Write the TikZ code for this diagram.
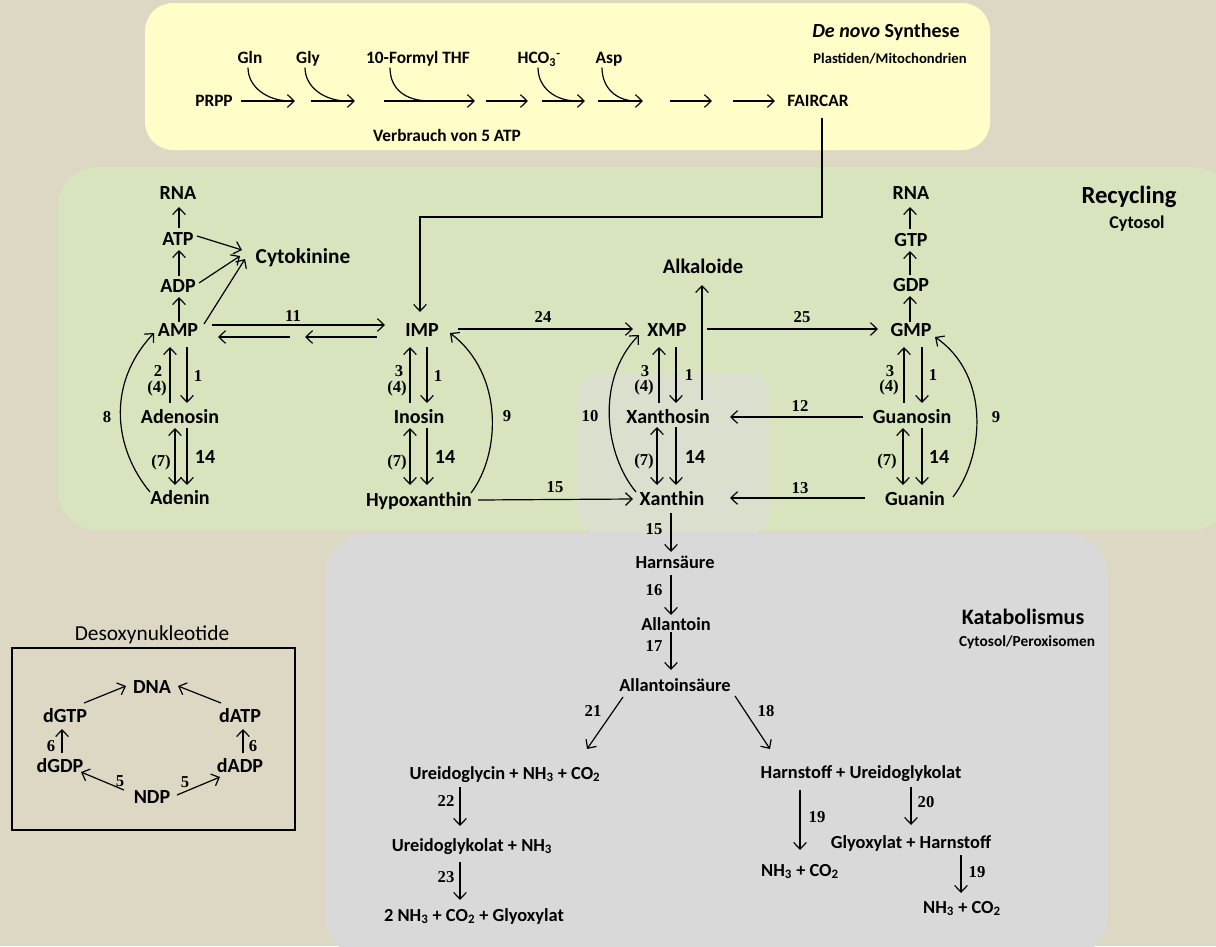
\documentclass[tikz,border=0pt]{standalone}
\usepackage{fontspec}
\setmainfont{Carlito}
\newfontfamily\numfont{Liberation Serif}
\usetikzlibrary{arrows.meta,calc}
\definecolor{bgc}{RGB}{221,216,196}
\definecolor{yelc}{RGB}{255,253,200}
\definecolor{grnc}{RGB}{216,228,189}
\definecolor{gryc}{RGB}{217,217,217}
\definecolor{midc}{RGB}{219,223,205}
\begin{document}
\begin{tikzpicture}[x=0.75pt,y=-0.75pt,
 every node/.style={inner sep=0pt,outer sep=0pt,text depth=0pt},
 lbl/.style={font=\fontsize{15}{17}\selectfont\bfseries,text height=9.7pt},
 tl/.style={font=\fontsize{13}{15}\selectfont\bfseries,text height=8.4pt},
 num/.style={font=\numfont\bfseries\fontsize{12.5}{14}\selectfont,text height=8.2pt},
 fourteen/.style={font=\fontsize{15}{17}\selectfont\bfseries,text height=9.7pt},
 kat/.style={font=\fontsize{13.8}{16}\selectfont\bfseries,text height=9pt},
 arr/.style={line width=0.9pt,-{Straight Barb[length=5pt,width=9.5pt]}},
 darr/.style={line width=0.9pt,{Straight Barb[length=5pt,width=9.5pt]}-{Straight Barb[length=5pt,width=9.5pt]}},
 ln/.style={line width=0.9pt},
]
% ---------- backgrounds ----------
\useasboundingbox (0,0) rectangle (1216,946);
\fill[bgc] (0,0) rectangle (1216,946);
\fill[yelc,rounded corners=21pt] (145,3) rectangle (990,150);
\fill[grnc,rounded corners=30pt] (58,167) rectangle (1232,530);
\fill[midc,rounded corners=18pt] (578,373) rectangle (770,535);
\fill[gryc,rounded corners=32pt] (325,533) rectangle (1108,958);

% ---------- De novo ----------
\node[font=\fontsize{15}{17}\selectfont\bfseries] (denovo) at (886,30) {\textit{De novo} Synthese};
\node[font=\fontsize{11}{13}\selectfont\bfseries] (plast) at (890,58) {Plastiden/Mitochondrien};
\node[tl] (prpp) at (214,101) {PRPP};
\node[tl] (gln) at (250,58) {Gln};
\node[tl] (gly) at (308,58) {Gly};
\node[tl] (fthf) at (418,58) {10-Formyl THF};
\node[tl] (hco) at (537,58) {HCO\textsubscript{3}\rlap{\textsuperscript{-}}};
\node[tl] (asp) at (609,58) {Asp};
\node[tl] (fair) at (818,101) {FAIRCAR};
\node[tl] (verb) at (447,136) {Verbrauch von 5 ATP};
\foreach \i/\a/\b in {1/241/295,2/311/355,3/384/475,4/486/528,5/542/585,6/598/643,7/670/712,8/733/775}{
  \coordinate (s\i a) at (\a,101);
  \coordinate (s\i b) at (\b,101);
  \draw[arr] (s\i a) -- (s\i b);
}
\coordinate (e1) at (290,101);
\coordinate (e2) at (347,101);
\coordinate (e3) at (430,101);
\coordinate (e4) at (577,101);
\coordinate (e5) at (636,101);
\draw[ln] ($(gln.south)+(-2,4)$) .. controls +(0,20) and +(-22,0) .. (e1);
\draw[ln] ($(gly.south)+(-3,4)$) .. controls +(0,20) and +(-22,0) .. (e2);
\draw[ln] ($(fthf.south)+(-28,4)$) .. controls +(0,22) and +(-24,0) .. (e3);
\draw[ln] ($(hco.south)+(1,4)$) .. controls +(0,20) and +(-22,0) .. (e4);
\draw[ln] ($(asp.south)+(-7,4)$) .. controls +(0,20) and +(-20,0) .. (e5);

% ---------- Recycling ----------
\node[font=\fontsize{18.5}{20}\selectfont\bfseries] (recyc) at (1129,195) {Recycling};
\node[font=\fontsize{13.5}{15}\selectfont\bfseries] (cytos) at (1137,222) {Cytosol};

\node[lbl] (rnaa) at (178,193) {RNA};
\node[lbl] (atp) at (178,239) {ATP};
\node[lbl] (adp) at (178,286) {ADP};
\node[lbl] (amp) at (178,330) {AMP};
\node[lbl] (ado) at (180,417) {Adenosin};
\node[lbl] (adn) at (180,498) {Adenin};
\node[font=\fontsize{16}{18}\selectfont\bfseries,text height=10.4pt] (cyto) at (303,257) {Cytokinine};

\node[lbl] (imp) at (422,330) {IMP};
\node[lbl] (ino) at (419,417) {Inosin};
\node[lbl] (hyp) at (419,500) {Hypoxanthin};

\node[lbl] (xmp) at (667,330) {XMP};
\node[lbl] (xao) at (668,417) {Xanthosin};
\node[lbl] (xan) at (672,499) {Xanthin};
\node[font=\fontsize{15.5}{17}\selectfont\bfseries,text height=10pt] (alk) at (703,267) {Alkaloide};

\node[lbl] (rnag) at (911,193) {RNA};
\node[lbl] (gtp) at (911,240) {GTP};
\node[lbl] (gdp) at (911,285) {GDP};
\node[lbl] (gmp) at (911,330) {GMP};
\node[lbl] (guo) at (912,417) {Guanosin};
\node[lbl] (gua) at (915,499) {Guanin};

% FAIRCAR -> IMP
\coordinate (f1) at ($(fair)+(4,17)$);
\coordinate (f2) at (822,217);
\coordinate (f3) at (420,217);
\draw[arr] (f1) -- (f2) -- (f3) -- ($(imp)+(-2,-18)$);

% left column
\draw[arr] ($(atp)+(1,-11)$) -- ($(rnaa)+(1,14)$);
\draw[arr] ($(adp)+(1,-10)$) -- ($(atp)+(1,11)$);
\draw[arr] ($(amp)+(1,-8)$) -- ($(adp)+(1,11)$);
\draw[arr] ($(atp)+(19,-3)$) -- ($(cyto)+(-61,-7)$);
\draw[arr] ($(adp)+(21,-3)$) -- ($(cyto)+(-63,-1)$);
\draw[arr] ($(amp)+(26,-6)$) -- ($(cyto)+(-58,2)$);
% right column
\draw[arr] ($(gtp)+(-1,-11)$) -- ($(rnag)+(-1,14)$);
\draw[arr] ($(gdp)+(-1,-10)$) -- ($(gtp)+(-1,11)$);
\draw[arr] ($(gmp)+(-1,-8)$) -- ($(gdp)+(-1,11)$);

% AMP <-> IMP
\draw[arr] ($(amp)+(34,-5)$) -- ($(imp)+(-37,-5)$);
\draw[arr] ($(imp)+(-45,7)$) -- ($(imp)+(-117,7)$);
\draw[arr] ($(amp)+(112,7)$) -- ($(amp)+(40,7)$);
\node[num] (n11) at (293,316) {11};
% IMP -> XMP -> GMP
\draw[arr] ($(imp)+(36,-1)$) -- ($(xmp)+(-34,-1)$);
\node[num] (n24) at (543,317) {24};
\draw[arr] ($(xmp)+(40,-1)$) -- ($(gmp)+(-33,-1)$);
\node[num] (n25) at (802,317) {25};
% horizontal arrows below
\draw[arr] ($(guo)+(-49,0)$) -- ($(xao)+(62,0)$);
\node[num] (n12) at (800,406) {12};
\draw[arr] ($(gua)+(-50,-1)$) -- ($(xan)+(58,-1)$);
\node[num] (n13) at (800,488) {13};
\draw[arr] ($(hyp)+(59,0)$) -- ($(xan)+(-39,0)$);
\node[num] (n15a) at (555,487) {15};
% Xanthosin -> Alkaloide
\draw[arr] ($(xao)+(34,-17)$) -- ($(alk)+(-1,18)$);

% AMP / Adenosin / Adenin
\draw[arr] ($(ado)+(-10,-14)$) -- ($(amp)+(-8,17)$);
\draw[arr] ($(amp)+(9,17)$) -- ($(ado)+(7,-14)$);
\node[num] (l2) at (158,371) {2};
\node[num] (l4a) at (157,387) {(4)};
\node[num] (l1a) at (198,376) {1};
\draw[darr] ($(ado)+(-5,11)$) -- ($(adn)+(-5,-13)$);
\draw[arr] ($(ado)+(7,11)$) -- ($(adn)+(7,-13)$);
\node[num] (l7a) at (161,461) {(7)};
\node[fourteen] (l14a) at (205,457) {14};
% IMP / Inosin / Hypoxanthin
\draw[arr] ($(ino)+(-9,-14)$) -- ($(imp)+(-12,17)$);
\draw[arr] ($(imp)+(5,17)$) -- ($(ino)+(8,-14)$);
\node[num] (l3b) at (399,371) {3};
\node[num] (l4b) at (397,387) {(4)};
\node[num] (l1b) at (438,376) {1};
\draw[darr] ($(ino)+(-9,11)$) -- ($(hyp)+(-9,-15)$);
\draw[arr] ($(ino)+(8,11)$) -- ($(hyp)+(8,-15)$);
\node[num] (l7b) at (397,461) {(7)};
\node[fourteen] (l14b) at (445,457) {14};
% XMP / Xanthosin / Xanthin
\draw[arr] ($(xao)+(-9,-14)$) -- ($(xmp)+(-8,17)$);
\draw[arr] ($(xmp)+(9,17)$) -- ($(xao)+(8,-14)$);
\node[num] (l3c) at (645,371) {3};
\node[num] (l4c) at (644,386) {(4)};
\node[num] (l1c) at (689,375) {1};
\draw[darr] ($(xao)+(-11,10)$) -- ($(xan)+(-15,-14)$);
\draw[arr] ($(xao)+(8,10)$) -- ($(xan)+(4,-14)$);
\node[num] (l7c) at (644,460) {(7)};
\node[fourteen] (l14c) at (695,457) {14};
% GMP / Guanosin / Guanin
\draw[arr] ($(guo)+(-8,-14)$) -- ($(gmp)+(-7,17)$);
\draw[arr] ($(gmp)+(11,17)$) -- ($(guo)+(10,-14)$);
\node[num] (l3d) at (890,371) {3};
\node[num] (l4d) at (889,386) {(4)};
\node[num] (l1d) at (933,375) {1};
\draw[darr] ($(guo)+(-9,11)$) -- ($(gua)+(-12,-14)$);
\draw[arr] ($(guo)+(10,11)$) -- ($(gua)+(7,-14)$);
\node[num] (l7d) at (887,460) {(7)};
\node[fourteen] (l14d) at (939,457) {14};

% curved salvage arrows
\draw[arr] ($(adn)+(-30,-6)$) .. controls (115,450) and (105,385) .. ($(amp)+(-24,3)$);
\node[num] (n8) at (107,417) {8};
\draw[arr] ($(hyp)+(52,-7)$) .. controls (500,455) and (505,375) .. ($(imp)+(28,3)$);
\node[num] (n9a) at (507,416) {9};
\draw[arr] ($(xan)+(-36,-7)$) .. controls (605,455) and (595,380) .. ($(xmp)+(-28,5)$);
\node[num] (n10) at (590,416) {10};
\draw[arr] ($(gua)+(38,-2)$) .. controls (985,455) and (990,375) .. ($(gmp)+(24,7)$);
\node[num] (n9b) at (996,417) {9};

% ---------- Katabolismus ----------
\node[font=\fontsize{16.5}{18}\selectfont\bfseries] (katab) at (1023,617) {Katabolismus};
\node[font=\fontsize{11.5}{13}\selectfont\bfseries] (katcp) at (1027,641) {Cytosol/Peroxisomen};

\node[kat] (harn) at (675,562) {Harnsäure};
\node[kat] (allt) at (676,624) {Allantoin};
\node[kat] (allsr) at (675,685) {Allantoinsäure};
\node[kat] (urg) at (505,773) {Ureidoglycin + NH\textsubscript{3} + CO\textsubscript{2}};
\node[kat] (ugn) at (472,845) {Ureidoglykolat + NH\textsubscript{3}};
\node[kat] (endl) at (474,915) {2 NH\textsubscript{3} + CO\textsubscript{2} + Glyoxylat};
\node[kat] (hu) at (861,772) {Harnstoff + Ureidoglykolat};
\node[kat] (nha) at (800,870) {NH\textsubscript{3} + CO\textsubscript{2}};
\node[kat] (gh) at (911,842) {Glyoxylat + Harnstoff};
\node[kat] (nhb) at (962,907) {NH\textsubscript{3} + CO\textsubscript{2}};

\draw[arr] ($(xan)+(-1,14)$) -- ($(harn)+(-4,-10)$);
\node[num] (k15) at (654,529) {15};
\draw[arr] ($(harn)+(-4,13)$) -- ($(allt)+(-5,-9)$);
\node[num] (k16) at (654,590) {16};
\draw[arr] ($(allt)+(-5,8)$) -- ($(allsr)+(-4,-15)$);
\node[num] (k17) at (654,646) {17};
\draw[arr] ($(allsr)+(-52,12)$) -- ($(urg)+(82,-24)$);
\node[num] (k21) at (593,711) {21};
\draw[arr] ($(allsr)+(60,11)$) -- ($(hu)+(-91,-23)$);
\node[num] (k18) at (766,711) {18};
\draw[arr] ($(urg)+(-45,14)$) -- ($(ugn)+(-12,-19)$);
\node[num] (k22) at (446,801) {22};
\draw[arr] ($(ugn)+(-12,17)$) -- ($(endl)+(-14,-15)$);
\node[num] (k23) at (446,877) {23};
\draw[arr] ($(hu)+(-61,18)$) -- ($(nha)+(0,-20)$);
\node[num] (k19a) at (817,817) {19};
\draw[arr] ($(hu)+(50,15)$) -- ($(gh)+(0,-17)$);
\node[num] (k20) at (926,802) {20};
\draw[arr] ($(gh)+(50,13)$) -- ($(nhb)+(-1,-14)$);
\node[num] (k19b) at (977,872) {19};

% ---------- Desoxynukleotide ----------
\node[font=\fontsize{16}{18}\selectfont] (desox) at (152,633) {Desoxynukleotide};
\draw[line width=0.8pt] (12,648) rectangle (295,830);
\node[lbl] (dna) at (152,687) {DNA};
\node[lbl] (dgtp) at (65,716) {dGTP};
\node[lbl] (datp) at (240,716) {dATP};
\node[lbl] (dgdp) at (60,766) {dGDP};
\node[lbl] (dadp) at (240,766) {dADP};
\node[lbl] (ndp) at (152,797) {NDP};
\draw[arr] ($(dgtp)+(19,-13)$) -- ($(dna)+(-26,-1)$);
\draw[arr] ($(datp)+(-19,-13)$) -- ($(dna)+(26,-1)$);
\draw[arr] ($(dgdp)+(2,-13)$) -- ($(dgtp)+(-3,13)$);
\draw[arr] ($(dadp)+(3,-13)$) -- ($(datp)+(3,13)$);
\draw[arr] ($(ndp)+(-28,-7)$) -- ($(dgdp)+(21,6)$);
\draw[arr] ($(ndp)+(25,-2)$) -- ($(dadp)+(-20,11)$);
\node[num] (d6a) at (51,746) {6};
\node[num] (d6b) at (253,746) {6};
\node[num] (d5a) at (120,781) {5};
\node[num] (d5b) at (185,782) {5};
\end{tikzpicture}
\end{document}
